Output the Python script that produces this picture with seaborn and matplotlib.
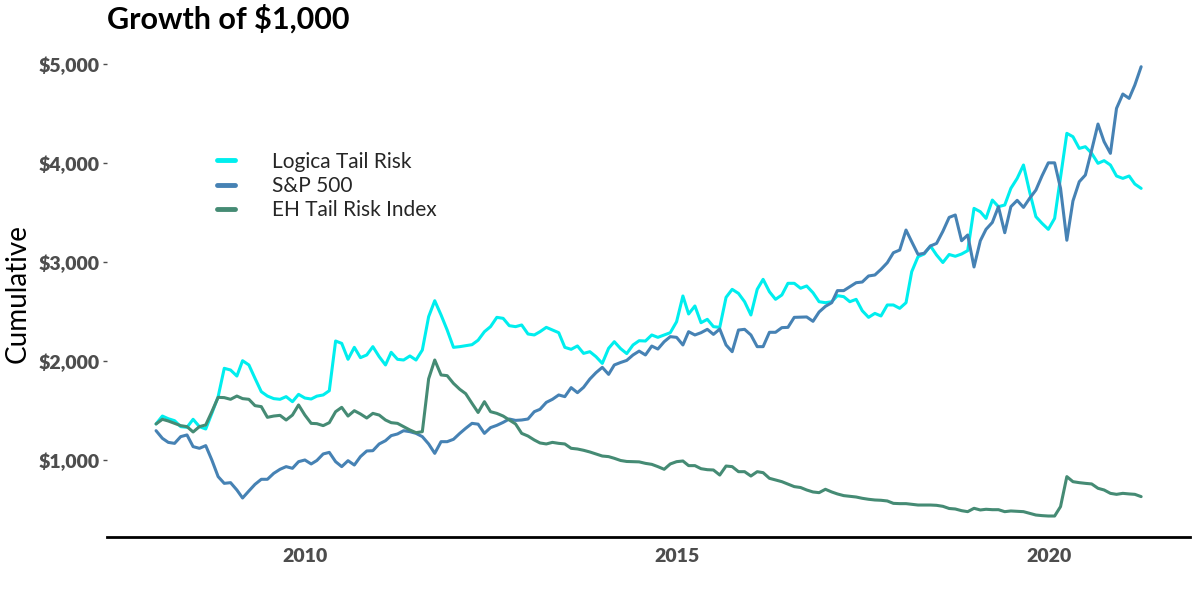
import pandas as pd
import seaborn as sns
import matplotlib
matplotlib.use("Agg")
import matplotlib.pyplot as plt
import matplotlib.dates as mdates
from matplotlib.ticker import FuncFormatter
from matplotlib.lines import Line2D

# month-end values, Dec 2007 .. Mar 2021
dates = pd.date_range("2008-01-01", periods=160, freq="MS") - pd.Timedelta(days=1)

logica = [
    1364, 1444, 1417, 1397, 1337, 1330, 1411, 1337, 1313, 1471, 1640, 1926,
    1909, 1848, 2003, 1960, 1825, 1690, 1646, 1620, 1613, 1640, 1589, 1663,
    1626, 1616, 1645, 1657, 1700, 2202, 2178, 2017, 2138, 2034, 2061, 2145,
    2044, 1960, 2088, 2017, 2010, 2051, 2010, 2111, 2448, 2609, 2465, 2313,
    2138, 2145, 2155, 2165, 2210, 2296, 2347, 2441, 2431, 2357, 2347, 2364,
    2273, 2263, 2296, 2340, 2313, 2286, 2138, 2118, 2152, 2077, 2094, 2044,
    1976, 2128, 2195, 2125, 2075, 2162, 2205, 2202, 2263, 2239, 2263, 2286,
    2397, 2657, 2475, 2556, 2387, 2421, 2347, 2340, 2643, 2724, 2683, 2599,
    2465, 2724, 2825, 2700, 2623, 2667, 2785, 2785, 2735, 2758, 2690, 2599,
    2589, 2599, 2660, 2650, 2599, 2623, 2508, 2441, 2481, 2455, 2566, 2566,
    2532, 2589, 2902, 3054, 3081, 3162, 3071, 2995, 3076, 3058, 3081, 3115,
    3542, 3508, 3441, 3626, 3559, 3576, 3744, 3845, 3980, 3710, 3458, 3391,
    3330, 3441, 3860, 4300, 4266, 4148, 4165, 4098, 3997, 4024, 3980, 3869,
    3845, 3869, 3788, 3744,
]

sp500 = [
    1296, 1219, 1178, 1168, 1236, 1253, 1135, 1118, 1145, 1000, 832, 764,
    771, 697, 616, 687, 754, 805, 805, 865, 906, 933, 916, 983,
    1000, 960, 995, 1061, 1077, 983, 933, 993, 949, 1034, 1091, 1094,
    1162, 1195, 1246, 1263, 1296, 1286, 1269, 1236, 1162, 1067, 1185, 1185,
    1209, 1269, 1320, 1370, 1362, 1269, 1327, 1350, 1380, 1414, 1400, 1404,
    1414, 1488, 1512, 1582, 1613, 1657, 1640, 1731, 1680, 1734, 1818, 1882,
    1936, 1865, 1960, 1985, 2006, 2061, 2100, 2061, 2151, 2121, 2195, 2246,
    2239, 2162, 2296, 2263, 2286, 2320, 2269, 2323, 2162, 2094, 2313, 2320,
    2263, 2145, 2145, 2290, 2290, 2337, 2340, 2441, 2443, 2445, 2401, 2495,
    2552, 2589, 2711, 2711, 2751, 2791, 2798, 2859, 2869, 2926, 2993, 3094,
    3121, 3323, 3205, 3077, 3088, 3162, 3188, 3310, 3451, 3475, 3215, 3273,
    2950, 3215, 3330, 3400, 3559, 3296, 3559, 3623, 3552, 3643, 3727, 3870,
    4002, 4002, 3745, 3220, 3617, 3811, 3879, 4131, 4394, 4216, 4098, 4552,
    4697, 4653, 4788, 4973,
]

eh_index = [
    1364, 1411, 1394, 1370, 1347, 1337, 1283, 1337, 1354, 1488, 1633, 1630,
    1613, 1646, 1620, 1613, 1549, 1539, 1431, 1444, 1451, 1404, 1454, 1556,
    1454, 1370, 1367, 1347, 1377, 1488, 1532, 1444, 1498, 1465, 1424, 1471,
    1454, 1404, 1377, 1370, 1337, 1303, 1276, 1286, 1820, 2010, 1859, 1852,
    1774, 1714, 1670, 1572, 1480, 1589, 1488, 1471, 1444, 1404, 1364, 1269,
    1242, 1202, 1172, 1162, 1178, 1168, 1162, 1118, 1111, 1098, 1081, 1061,
    1040, 1034, 1017, 995, 985, 983, 981, 966, 956, 933, 906, 960,
    983, 990, 943, 943, 912, 902, 899, 848, 939, 933, 882, 882,
    838, 882, 872, 815, 798, 781, 756, 731, 722, 697, 677, 670,
    704, 677, 657, 640, 633, 626, 613, 603, 596, 593, 586, 562,
    559, 559, 552, 545, 545, 545, 542, 532, 510, 505, 488, 478,
    512, 495, 502, 498, 498, 478, 485, 481, 478, 461, 444, 438,
    434, 434, 529, 832, 781, 771, 764, 758, 714, 697, 663, 653,
    663, 657, 653, 630,
]

series_names = ["Logica Tail Risk", "S&P 500", "EH Tail Risk Index"]
colors = ["#00EEEE", "#4682B4", "#458B74"]

df = pd.DataFrame({"date": dates, series_names[0]: logica,
                   series_names[1]: sp500, series_names[2]: eh_index})
long_df = df.melt(id_vars="date", var_name="series", value_name="value")

sns.set_style("white")
plt.rcParams["font.family"] = ["Lato", "DejaVu Sans"]

fig = plt.figure(figsize=(12, 6), dpi=100)
ax = fig.add_axes([0.089, 0.105, 0.903, 0.813])

sns.lineplot(data=long_df, x="date", y="value", hue="series",
             hue_order=series_names, palette=colors, linewidth=2.2,
             ax=ax, legend=False)

ax.set_ylim(222, 5150)
ax.set_yticks([1000, 2000, 3000, 4000, 5000])
ax.yaxis.set_major_formatter(FuncFormatter(lambda v, p: f"${v:,.0f}"))
ax.xaxis.set_major_locator(mdates.YearLocator(5))
ax.xaxis.set_major_formatter(mdates.DateFormatter("%Y"))

for side in ["top", "right", "left"]:
    ax.spines[side].set_visible(False)
ax.spines["bottom"].set_color("black")
ax.spines["bottom"].set_linewidth(2)

ax.tick_params(axis="both", which="major", length=3, width=1,
               color="#4d4d4d", labelcolor="#4d4d4d", labelsize=14)
ax.tick_params(axis="x", pad=5)
ax.tick_params(axis="y", pad=2, left=True)
for lab in ax.get_xticklabels() + ax.get_yticklabels():
    lab.set_fontweight("heavy")

ax.set_xlabel("")
ax.set_ylabel("Cumulative", fontsize=20, color="black", labelpad=6)
ax.set_title("Growth of $1,000", loc="left", fontsize=22,
             fontweight="bold", color="black", pad=15)

handles = [Line2D([0], [0], color=c, linewidth=3.5) for c in colors]
ax.legend(handles, series_names, loc="upper left",
          bbox_to_anchor=(0.102, 0.79), frameon=False, fontsize=15,
          handlelength=0.87, handletextpad=1.75, labelspacing=0.2,
          borderpad=0, borderaxespad=0)

fig.savefig("out.png", dpi=100)
